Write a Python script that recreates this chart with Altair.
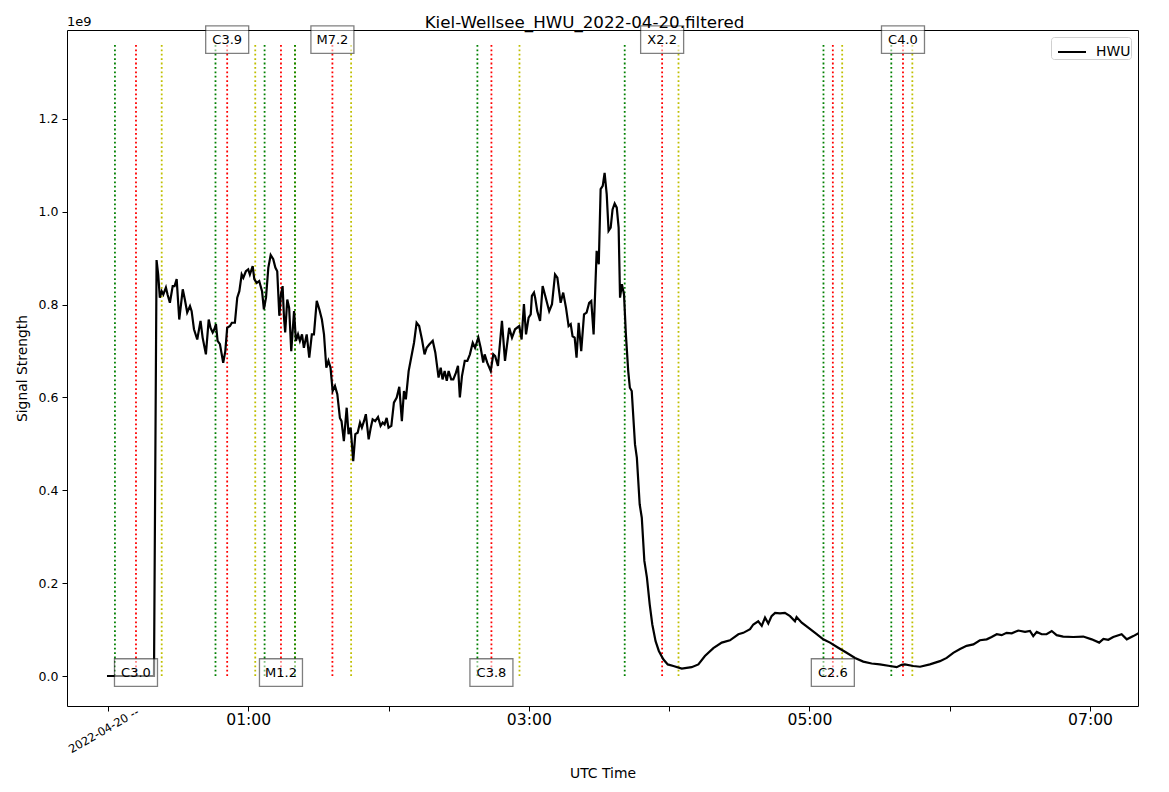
import altair as alt
import pandas as pd

# ---- data (minutes after 2022-04-20 00:00 UTC, signal in units of 1e9) ----
line_minutes = [
    -0.4, 19.7, 20.8, 21.5, 22.2, 23.0, 23.7, 24.8, 25.5, 26.5, 27.7, 28.5, 29.4, 30.5, 32.0, 32.9,
    33.9, 35.1, 35.8, 36.8, 38.2, 39.6, 40.5, 41.9, 43.1, 43.9, 44.8, 45.5, 46.2, 46.9, 47.9, 49.3,
    50.2, 51.0, 52.2, 53.0, 54.3, 55.3, 56.2, 57.2, 57.9, 59.0, 60.0, 60.7, 61.9, 62.6, 63.6, 64.7,
    65.9, 66.7, 67.6, 68.6, 69.6, 70.7, 71.6, 72.4, 73.3, 74.0, 74.7, 75.3, 75.8, 76.7, 77.5, 78.4,
    79.6, 80.4, 81.3, 82.1, 83.0, 83.8, 85.0, 86.1, 87.2, 88.1, 89.3, 90.4, 91.5, 92.4, 93.4, 94.3,
    95.2, 96.1, 97.1, 98.1, 99.2, 99.9, 100.9, 102.1, 102.9, 103.8, 104.9, 105.8, 106.8, 107.8, 108.6,
    109.5, 110.3, 111.5, 112.4, 113.2, 114.3, 115.5, 116.6, 117.5, 118.3, 119.2, 120.0, 121.2, 122.3,
    123.5, 124.6, 125.7, 126.6, 127.4, 128.6, 129.7, 130.9, 132.0, 133.1, 134.3, 135.4, 136.3, 137.4,
    138.9, 140.0, 141.4, 142.3, 143.1, 144.0, 144.9, 145.7, 146.8, 147.7, 148.8, 149.7, 150.5, 151.4,
    152.6, 153.7, 154.8, 156.0, 157.0, 158.4, 159.4, 160.5, 161.1, 162.2, 163.7, 164.8, 165.6, 166.8,
    168.5, 169.8, 171.6, 172.8, 174.1, 175.9, 176.9, 177.9, 178.8, 179.9, 180.8, 181.3, 182.2, 182.7,
    183.6, 184.8, 185.9, 187.0, 188.7, 189.9, 191.2, 192.2, 193.6, 194.7, 195.9, 197.0, 197.9, 198.7,
    199.6, 200.4, 201.3, 202.4, 203.6, 204.7, 205.8, 206.7, 207.7, 209.0, 209.9, 210.7, 211.6, 212.4,
    213.3, 214.1, 215.0, 215.8, 216.7, 217.6, 218.4, 219.0, 219.8, 220.7, 221.5, 222.5, 223.2, 224.0,
    225.4, 226.2, 227.4, 228.3, 229.4, 230.5, 231.7, 232.8, 234.2, 235.6, 237.5, 239.4, 241.8, 245.4,
    249.6, 252.5, 255.3, 258.9, 262.5, 266.0, 269.6, 271.7, 274.6, 276.0, 278.1, 279.6, 281.0, 282.4,
    283.8, 285.3, 287.4, 289.5, 291.7, 293.8, 294.5, 296.7, 299.5, 303.1, 305.9, 308.8, 312.3, 315.9,
    319.5, 323.0, 326.6, 330.1, 334.4, 337.3, 339.4, 340.8, 344.4, 347.3, 351.5, 355.8, 358.7, 361.5,
    364.4, 367.2, 370.1, 372.9, 375.8, 377.9, 380.1, 382.2, 384.3, 386.5, 389.3, 392.2, 394.3, 395.7,
    397.2, 399.3, 401.4, 403.6, 405.7, 408.5, 412.8, 417.1, 420.7, 423.9, 425.7, 427.8, 429.9, 433.5,
    435.7, 438.5, 441.0,
]
line_values = [
    0.0, 0.0, 0.896, 0.865, 0.815, 0.829, 0.822, 0.837, 0.822, 0.804, 0.840, 0.840, 0.855, 0.768, 0.833, 0.811,
    0.783, 0.797, 0.786, 0.747, 0.725, 0.765, 0.729, 0.693, 0.768, 0.750, 0.740, 0.747, 0.758, 0.722, 0.715, 0.675,
    0.700, 0.750, 0.754, 0.761, 0.761, 0.815, 0.829, 0.865, 0.858, 0.872, 0.876, 0.865, 0.883, 0.855, 0.847, 0.851,
    0.829, 0.790, 0.815, 0.880, 0.907, 0.898, 0.880, 0.872, 0.776, 0.822, 0.840, 0.772, 0.740, 0.811, 0.793, 0.700,
    0.786, 0.722, 0.736, 0.722, 0.736, 0.707, 0.736, 0.686, 0.736, 0.736, 0.808, 0.790, 0.768, 0.736, 0.664, 0.679,
    0.664, 0.614, 0.625, 0.607, 0.556, 0.549, 0.506, 0.578, 0.521, 0.535, 0.463, 0.521, 0.524, 0.546, 0.535,
    0.549, 0.564, 0.510, 0.535, 0.553, 0.549, 0.558, 0.539, 0.546, 0.542, 0.556, 0.535, 0.539, 0.589,
    0.600, 0.623, 0.549, 0.614, 0.596, 0.657, 0.686, 0.718, 0.761, 0.754, 0.725, 0.693, 0.707, 0.714,
    0.722, 0.697, 0.643, 0.664, 0.639, 0.657, 0.636, 0.657, 0.639, 0.639, 0.653, 0.668, 0.600, 0.646,
    0.679, 0.679, 0.693, 0.718, 0.707, 0.729, 0.707, 0.675, 0.693, 0.675, 0.657, 0.693, 0.689, 0.668,
    0.765, 0.679, 0.750, 0.729, 0.747, 0.754, 0.725, 0.801, 0.736, 0.772, 0.779, 0.819, 0.826, 0.815,
    0.786, 0.765, 0.840, 0.819, 0.786, 0.801, 0.865, 0.858, 0.804, 0.826, 0.793, 0.754, 0.758, 0.732,
    0.729, 0.686, 0.761, 0.700, 0.779, 0.783, 0.804, 0.808, 0.736, 0.916, 0.887, 1.049, 1.056, 1.084,
    1.038, 0.959, 0.966, 1.005, 1.018, 1.009, 0.966, 0.815, 0.844, 0.822, 0.736, 0.657, 0.621, 0.614,
    0.499, 0.470, 0.370, 0.341, 0.248, 0.212, 0.154, 0.111, 0.075, 0.054, 0.036, 0.025, 0.0215, 0.016,
    0.019, 0.025, 0.043, 0.060, 0.072, 0.077, 0.090, 0.093, 0.101, 0.111, 0.118, 0.108, 0.126, 0.113,
    0.129, 0.136, 0.135, 0.136, 0.129, 0.118, 0.127, 0.115, 0.104, 0.090, 0.079, 0.072, 0.061, 0.050,
    0.039, 0.031, 0.027, 0.025, 0.0215, 0.019, 0.024, 0.025, 0.0215, 0.020, 0.025, 0.032, 0.039, 0.050,
    0.058, 0.065, 0.068, 0.077, 0.079, 0.084, 0.090, 0.088, 0.093, 0.092, 0.098, 0.095, 0.097, 0.086,
    0.095, 0.090, 0.090, 0.097, 0.088, 0.085, 0.084, 0.085, 0.079, 0.072, 0.080, 0.078, 0.084, 0.090,
    0.079, 0.086, 0.093,
]
series_name = "HWU"

flare_names = ["C3.0", "C3.9", "M1.2", "M7.2", "C3.8", "X2.2", "C2.6", "C4.0"]
flare_start = [3, 46, 67, 80, 158, 221, 306, 335]
flare_peak = [12, 51, 74, 96, 164, 237, 310, 340]
flare_end = [23, 63, 80, 104, 176, 244, 314, 344]
flare_label_at = ["bottom", "top", "bottom", "top", "bottom", "top", "bottom", "top"]

hour_ticks = [0, 60, 120, 180, 240, 300, 360, 420]
y_ticks = [0.0, 0.2, 0.4, 0.6, 0.8, 1.0, 1.2]
date_label = "2022-04-20 --"
title_text = "Kiel-Wellsee_HWU_2022-04-20.filtered"
offset_text = "1e9"

# ---- styling ----
FONT = "DejaVu Sans"
W, H = 1071, 676
RULE_TOP = 1.36
LABEL_Y = {"top": 1.371, "bottom": 0.0075}
PHASE_COLORS = {"start": "#008000", "peak": "#ff0000", "end": "#bfbf00"}

x_scale = alt.Scale(domain=[-17.5, 440.5], nice=False, zero=False)
y_scale = alt.Scale(domain=[-0.0646, 1.3917], nice=False, zero=False)

line_df = pd.DataFrame({"t": line_minutes, "v": line_values, "series": series_name})

rows = []
for n, s, p, e in zip(flare_names, flare_start, flare_peak, flare_end):
    for phase, t in (("start", s), ("peak", p), ("end", e)):
        rows.append({"flare": n, "t": t, "y0": 0.0, "y1": RULE_TOP, "col": PHASE_COLORS[phase]})
rules_df = pd.DataFrame(rows)

labels_df = pd.DataFrame({
    "name": flare_names,
    "t": flare_peak,
    "y": [LABEL_Y[p] for p in flare_label_at],
})

x_enc = alt.X(
    "t:Q", scale=x_scale, title="UTC Time",
    axis=alt.Axis(
        values=hour_ticks,
        labelExpr="datum.value % 120 == 60 ? ((datum.value < 600 ? '0' : '') + floor(datum.value / 60) + ':00') : ''",
        labelFontSize=15.6, labelPadding=1, tickSize=5, titleFontSize=13.9, titlePadding=39,
        grid=False, labelFont=FONT, titleFont=FONT, titleFontWeight="normal",
        domain=False, labelColor="black", titleColor="black", tickColor="black",
    ),
)

rules = alt.Chart(rules_df).mark_rule(strokeDash=[1.8, 2.6], strokeWidth=1.8).encode(
    x=alt.X("t:Q", scale=x_scale),
    y=alt.Y("y0:Q", scale=y_scale),
    y2="y1:Q",
    color=alt.Color("col:N", scale=None),
)

line = alt.Chart(line_df).mark_line(strokeWidth=2.2, clip=True).encode(
    x=x_enc,
    y=alt.Y(
        "v:Q", scale=y_scale, title="Signal Strength",
        axis=alt.Axis(
            values=y_ticks, format=".1f", labelFontSize=12.5, tickSize=5, labelPadding=4,
            titleFontSize=13.9, titlePadding=9, grid=False, labelFont=FONT, titleFont=FONT,
            titleFontWeight="normal", domain=False, labelColor="black", titleColor="black",
            tickColor="black",
        ),
    ),
    color=alt.Color(
        "series:N",
        scale=alt.Scale(domain=[series_name], range=["black"]),
        legend=alt.Legend(
            title=None, orient="top-right", offset=7, symbolType="stroke",
            symbolStrokeWidth=2, symbolSize=784, symbolOffset=6, labelFontSize=13.9,
            labelFont=FONT, labelOffset=9, labelExpr="datum.label + '  '",
            fillColor="white", strokeColor="#d0d0d0", cornerRadius=3,
            padding=0, labelColor="black",
        ),
    ),
)

boxes = alt.Chart(labels_df).mark_point(
    shape="M-1,-0.64L1,-0.64L1,0.64L-1,0.64Z", size=43 * 43, filled=True,
    fill="white", fillOpacity=0.5, stroke="black", strokeOpacity=0.5, strokeWidth=1.3,
).encode(x=alt.X("t:Q", scale=x_scale), y=alt.Y("y:Q", scale=y_scale))

texts = alt.Chart(labels_df).mark_text(
    fontSize=13, font=FONT, color="black", align="center", baseline="middle",
).encode(x=alt.X("t:Q", scale=x_scale), y=alt.Y("y:Q", scale=y_scale), text="name:N")

date_df = pd.DataFrame({"t": [0], "label": [date_label]})
date_txt = alt.Chart(date_df).mark_text(
    fontSize=11.5, font=FONT, color="black", align="right", baseline="middle",
    angle=330, dx=35,
).encode(x=alt.X("t:Q", scale=x_scale), y=alt.value(H + 23), text="label:N")

head_df = pd.DataFrame({"label": [title_text]})
title_txt = alt.Chart(head_df).mark_text(
    fontSize=16.7, font=FONT, color="black", align="center", baseline="alphabetic",
).encode(x=alt.value(517.5), y=alt.value(-2), text="label:N")

off_df = pd.DataFrame({"label": [offset_text]})
off_txt = alt.Chart(off_df).mark_text(
    fontSize=13, font=FONT, color="black", align="left", baseline="alphabetic",
).encode(x=alt.value(0), y=alt.value(-4), text="label:N")

chart = alt.layer(rules, line, boxes, texts, date_txt, title_txt, off_txt).resolve_scale(
    color="independent"
).properties(
    width=W, height=H,
    padding={"left": 7, "top": 7, "right": 5, "bottom": 0},
    background="white",
).configure_view(
    stroke="black", strokeWidth=1
)

chart.save("out.html", embed_options={"renderer": "svg", "actions": False})
